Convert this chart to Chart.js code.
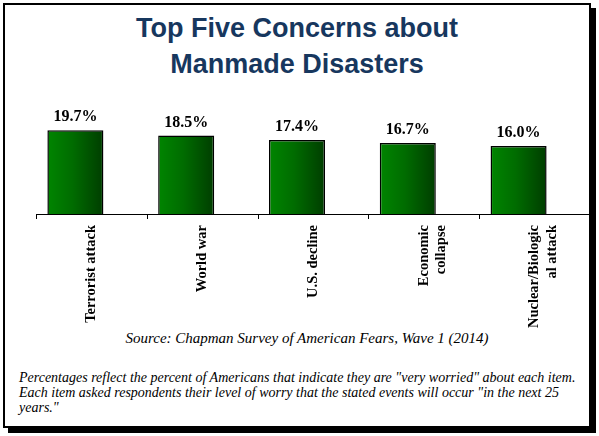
<!DOCTYPE html>
<html><head><meta charset="utf-8">
<script src="https://cdn.jsdelivr.net/npm/chart.js@4"></script>
<style>
body{margin:0;width:599px;height:436px;background:#fff;position:relative;overflow:hidden}
#frame{position:absolute;left:3px;top:3px;width:584px;height:421px;border:2px solid #000;box-shadow:5px 5px 0 #000;background:#fff}
#title{position:absolute;left:0;top:10px;width:594px;text-align:center;font:bold 27px "Liberation Sans",Arial,sans-serif;color:#17375E;line-height:36px}
#src{position:absolute;left:0;top:330px;width:614px;text-align:center;font:italic 15px "Liberation Serif",serif;color:#000}
#note{position:absolute;left:19px;top:370px;width:565px;font:italic 14px "Liberation Serif",serif;color:#000;line-height:15px}
#wrap{position:absolute;left:0;top:95px;width:599px;height:235px}
</style></head><body>
<div id="frame"></div>
<div id="title">Top Five Concerns about<br>Manmade Disasters</div>
<div id="wrap"><canvas id="c"></canvas></div>
<div id="src">Source: Chapman Survey of American Fears, Wave 1 (2014)</div>
<div id="note">Percentages reflect the percent of Americans that indicate they are "very worried" about each item. Each item asked respondents their level of worry that the stated events will occur "in the next 25 years."</div>
<script>
const categories=[["Terrorist attack"],["World war"],["U.S. decline"],["Economic","collapse"],["Nuclear/Biologic","al attack"]];
const values=[19.7,18.5,17.4,16.7,16.0];
const valueLabels=["19.7%","18.5%","17.4%","16.7%","16.0%"];
const CP=0.578, BP=1.75;
const labelsPlugin={id:'vl',afterDatasetsDraw(chart){const ctx=chart.ctx;ctx.save();ctx.font='bold 16px "Liberation Serif",serif';ctx.fillStyle='#000';ctx.textAlign='center';ctx.textBaseline='bottom';
chart.getDatasetMeta(0).data.forEach((b,i)=>ctx.fillText(valueLabels[i],b.x,b.y-5));
const a=chart.chartArea, y=a.bottom; ctx.strokeStyle='#000';ctx.lineWidth=1;ctx.beginPath();ctx.moveTo(a.left,y+0.5);ctx.lineTo(a.right,y+0.5);
const n=values.length,w=(a.right-a.left)/n;for(let i=0;i<=n;i++){const x=Math.round(a.left+i*w)+0.5;ctx.moveTo(x,y);ctx.lineTo(x,y+5);}ctx.stroke();ctx.restore();}};
new Chart(document.getElementById('c'),{type:'bar',
data:{labels:categories,datasets:[{data:values,borderColor:'#000',borderWidth:1.5,categoryPercentage:CP,barPercentage:BP,
backgroundColor(ctx){const ch=ctx.chart;const x=ch.scales.x;if(!x||ctx.dataIndex===undefined)return '#006000';const slot=(x.width/values.length)*CP/2;const cx=x.getPixelForValue(ctx.dataIndex)-slot/2;const hw=slot*BP/2;if(!isFinite(cx)||!isFinite(hw)||hw<=0)return '#006000';const g=ch.ctx.createLinearGradient(cx-hw,0,cx+hw,0);g.addColorStop(0,'#008500');g.addColorStop(0.45,'#006c00');g.addColorStop(1,'#003d00');return g;}},
{data:values.map(()=>null),categoryPercentage:CP,barPercentage:BP}]},
options:{responsive:true,maintainAspectRatio:false,animation:false,layout:{padding:{left:36,right:9,top:0,bottom:0}},
plugins:{legend:{display:false},tooltip:{enabled:false}},
scales:{y:{display:false,min:0,max:28},
x:{grid:{display:false},border:{display:false},ticks:{minRotation:90,maxRotation:90,padding:3,color:'#000',font:{family:'"Liberation Serif",serif',size:14.5,weight:'bold'}},afterFit(s){s.height=116;}}}},
plugins:[labelsPlugin]});
</script></body></html>
